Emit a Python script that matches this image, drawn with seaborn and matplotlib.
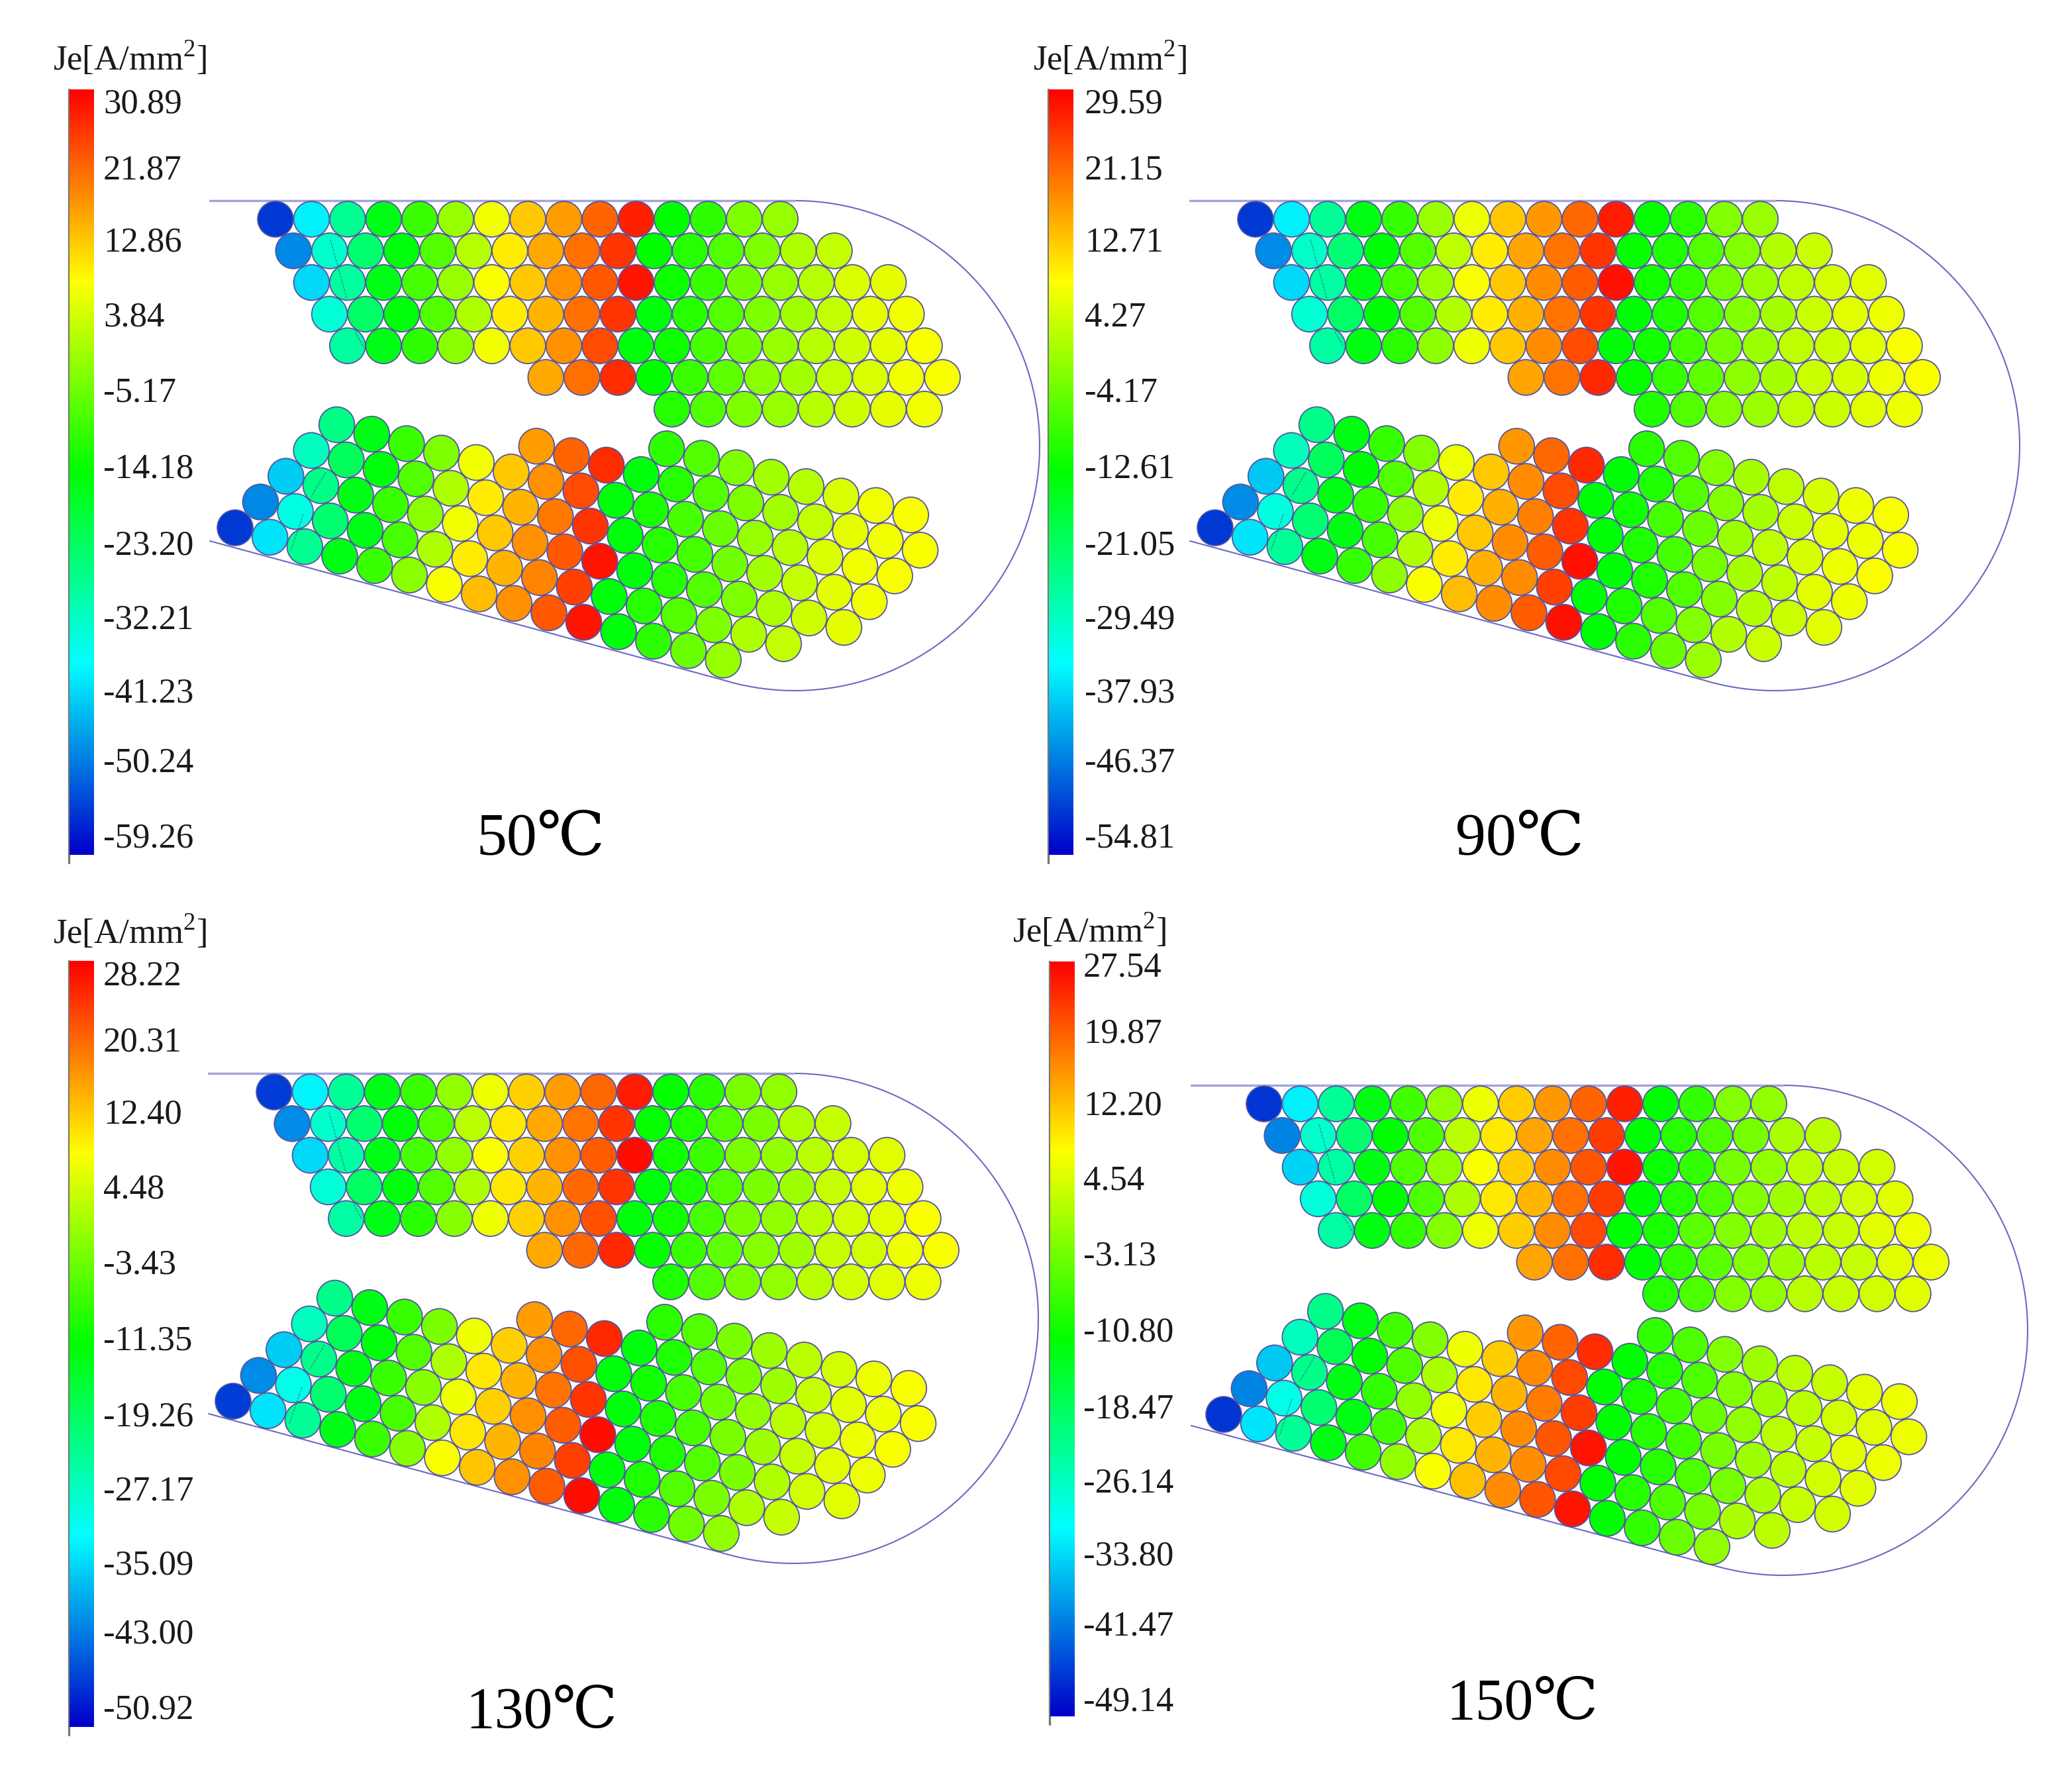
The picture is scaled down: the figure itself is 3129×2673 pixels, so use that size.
import numpy as np
import pandas as pd
import matplotlib.pyplot as plt
import seaborn as sns
from matplotlib.colors import LinearSegmentedColormap

# temperatures and colour bar readings of the four panels
TITLES = ["50℃", "90℃", "130℃", "150℃"]
SCALE_LABELS = [
    ["30.89", "21.87", "12.86", "3.84", "-5.17", "-14.18", "-23.20", "-32.21", "-41.23", "-50.24", "-59.26"],
    ["29.59", "21.15", "12.71", "4.27", "-4.17", "-12.61", "-21.05", "-29.49", "-37.93", "-46.37", "-54.81"],
    ["28.22", "20.31", "12.40", "4.48", "-3.43", "-11.35", "-19.26", "-27.17", "-35.09", "-43.00", "-50.92"],
    ["27.54", "19.87", "12.20", "4.54", "-3.13", "-10.80", "-18.47", "-26.14", "-33.80", "-41.47", "-49.14"],
]

# Je of each conductor, row by row, estimated from the colours
UPPER_50 = [
    [-54, -38, -27, -16, -9, -1, 7, 13, 17, 22, 28, -14, -10, -3, -1],
    [-47, -32, -24, -15, -7, 2, 10, 16, 21, 26, -14, -11, -7, -3, 1, 3],
    [-40, -28, -16, -8, -1, 8, 13, 18, 23, 29, -13, -9, -4, -1, 2, 5, 6],
    [-33, -23, -15, -7, 1, 10, 15, 21, 26, -15, -11, -7, -3, 0, 3, 6, 7],
    [-28, -16, -10, -2, 7, 13, 18, 24, -15, -13, -8, -4, -1, 2, 4, 6, 8],
    [16, 21, 27, -14, -9, -6, -2, 0, 3, 5, 7, 8],
    [-11, -7, -3, -1, 2, 4, 6, 7],
]
LOWER_50 = [
    [-54, -39, -27, -16, -9, -2, 8, 14, 18, 23, 29, -15, -10, -5, -1],
    [-47, -34, -24, -16, -8, 1, 10, 15, 19, 25, -15, -11, -7, -3, 1, 3],
    [-41, -26, -16, -9, -2, 7, 13, 18, 23, 29, -15, -11, -7, -3, 1, 4, 6],
    [-31, -22, -15, -7, 1, 10, 15, 20, 26, -15, -11, -8, -4, 0, 3, 6, 7],
    [-26, -16, -9, -3, 7, 13, 18, 24, -15, -12, -8, -5, -1, 2, 5, 7, 8],
    [17, 22, 27, -15, -11, -7, -3, 0, 3, 6, 7, 8],
    [-10, -7, -3, 0, 2, 5, 7, 8],
]
UPPER_90 = [
    [-50, -35, -25, -14, -8, 0, 7, 13, 17, 21, 27, -12, -9, -2, 0],
    [-43, -29, -22, -13, -6, 3, 10, 16, 20, 25, -12, -10, -6, -2, 2, 4],
    [-37, -26, -14, -7, 0, 8, 13, 18, 22, 28, -11, -8, -3, 0, 3, 5, 6],
    [-30, -21, -13, -6, 2, 10, 15, 20, 25, -13, -10, -6, -2, 1, 4, 6, 7],
    [-26, -14, -9, -1, 7, 13, 18, 23, -13, -11, -7, -3, 0, 3, 4, 6, 8],
    [16, 20, 26, -12, -8, -5, -1, 1, 4, 5, 7, 8],
    [-10, -6, -2, 0, 3, 4, 6, 7],
]
LOWER_90 = [
    [-50, -36, -25, -14, -8, -1, 8, 14, 18, 22, 28, -13, -9, -4, 0],
    [-43, -31, -22, -14, -7, 2, 10, 15, 18, 24, -13, -10, -6, -2, 2, 4],
    [-38, -24, -14, -8, -1, 7, 13, 18, 22, 28, -13, -10, -6, -2, 2, 4, 6],
    [-28, -20, -13, -6, 2, 10, 15, 19, 25, -13, -10, -7, -3, 1, 3, 6, 7],
    [-24, -14, -8, -2, 7, 13, 18, 23, -13, -11, -7, -4, 0, 3, 5, 7, 8],
    [17, 21, 26, -13, -10, -6, -2, 1, 4, 6, 7, 8],
    [-9, -6, -2, 1, 3, 5, 7, 8],
]
UPPER_130 = [
    [-46, -32, -23, -13, -7, 0, 7, 12, 16, 20, 26, -11, -8, -2, 0],
    [-40, -27, -20, -12, -5, 3, 10, 15, 19, 24, -11, -9, -5, -2, 2, 4],
    [-34, -24, -13, -6, 0, 8, 12, 17, 21, 27, -10, -7, -2, 0, 3, 5, 6],
    [-28, -19, -12, -5, 2, 10, 14, 20, 24, -12, -9, -5, -2, 1, 4, 6, 7],
    [-24, -13, -8, -1, 7, 12, 17, 22, -12, -10, -6, -2, 0, 3, 5, 6, 8],
    [15, 20, 25, -11, -7, -4, -1, 1, 4, 5, 7, 8],
    [-9, -5, -2, 0, 3, 5, 6, 7],
]
LOWER_130 = [
    [-46, -33, -23, -13, -7, -1, 8, 13, 17, 21, 27, -12, -8, -3, 0],
    [-40, -29, -20, -13, -6, 2, 10, 14, 18, 23, -12, -9, -5, -2, 2, 4],
    [-35, -22, -13, -7, -1, 7, 12, 17, 21, 27, -12, -9, -5, -2, 2, 5, 6],
    [-26, -18, -12, -5, 2, 10, 14, 19, 24, -12, -9, -6, -2, 1, 4, 6, 7],
    [-22, -13, -7, -2, 7, 12, 17, 22, -12, -10, -6, -3, 0, 3, 5, 7, 8],
    [16, 20, 25, -12, -9, -5, -2, 1, 4, 6, 7, 8],
    [-8, -5, -2, 1, 3, 5, 7, 8],
]
UPPER_150 = [
    [-45, -31, -22, -12, -6, 0, 7, 12, 16, 20, 25, -11, -7, -1, 0],
    [-39, -26, -19, -11, -5, 3, 10, 15, 19, 23, -11, -8, -5, -2, 2, 3],
    [-33, -23, -12, -5, 0, 8, 12, 17, 21, 26, -10, -7, -2, 0, 3, 4, 5],
    [-27, -18, -11, -5, 2, 10, 14, 19, 23, -11, -8, -5, -1, 1, 3, 5, 6],
    [-23, -12, -7, -1, 7, 12, 17, 22, -11, -9, -4, -1, 1, 3, 4, 6, 7],
    [15, 19, 24, -11, -7, -4, -1, 1, 3, 4, 6, 7],
    [-8, -5, -1, 0, 3, 4, 5, 6],
]
LOWER_150 = [
    [-45, -32, -22, -12, -6, 0, 8, 13, 17, 21, 26, -11, -7, -3, 0],
    [-39, -28, -19, -12, -6, 2, 10, 14, 17, 22, -11, -8, -5, -2, 2, 3],
    [-34, -21, -12, -7, 0, 7, 12, 17, 21, 26, -11, -8, -5, -2, 2, 4, 5],
    [-25, -17, -11, -5, 2, 10, 14, 18, 23, -11, -8, -6, -2, 1, 3, 5, 6],
    [-21, -12, -6, -1, 7, 12, 17, 22, -11, -9, -6, -3, 0, 3, 4, 6, 7],
    [16, 20, 24, -11, -8, -5, -1, 1, 3, 5, 6, 7],
    [-7, -5, -1, 1, 3, 4, 6, 7],
]
UPPER = [UPPER_50, UPPER_90, UPPER_130, UPPER_150]
LOWER = [LOWER_50, LOWER_90, LOWER_130, LOWER_150]

# first column used in each row of the winding
ROW_START = [0, 0, 0, 0, 0, 5, 8]

# layout, all in pixels of the final image
W, H = 3129, 2673
UPPER_ORIGIN = [(416, 331), (1896, 331), (414, 1649), (1909, 1667)]
LOWER_ORIGIN = [(355, 797), (1835, 797), (352, 2116), (1848, 2136)]
OUTLINE_SHIFT = [(0, 0), (1480, 0), (-2, 1318), (1492, 1336)]
OUTLINE_LEFT = [317, 1797, 315, 1799]
BAR_X = [(105, 142), (1584, 1621), (105, 142), (1586, 1623)]
BAR_Y = [(135, 1291), (135, 1291), (1451, 2608), (1452, 2592)]
LABEL_X = [156, 1638, 156, 1636]
LABEL_Y = [157, 257, 366, 479, 593, 708, 824, 936, 1047, 1152, 1266]
LABEL_SHIFT = [0, 0, 1317, 1304]
HEADER_XY = [(196, 88), (1676, 88), (196, 1407), (1645, 1405)]
TITLE_XY = [(817, 1269), (2295, 1269), (818, 2587), (2299, 2574)]
TITLE_SIZE = [66, 66, 63, 63]
MARKS = [((499, 362), (524, 452)), ((536, 501), (549, 524)), ((492, 713), (470, 750)), ((458, 777), (439, 832))]

LINE_COLOR = "#6a6ac2"
EDGE_COLOR = "#55559e"
jet = LinearSegmentedColormap.from_list("je", ["#0000c8", "#00ffff", "#00ff00", "#ffff00", "#ff0000"])


# turn rows of values into a table of circle centres
def lattice(rows, origin, col_step, row_step):
    out = []
    for r, row in enumerate(rows):
        for k, je in enumerate(row):
            col = ROW_START[r] + k
            out.append({
                "x": origin[0] + col * col_step[0] + r * row_step[0],
                "y": origin[1] + col * col_step[1] + r * row_step[1],
                "Je": je,
            })
    return pd.DataFrame(out)


sns.set_theme(style="white")
plt.rcParams["font.family"] = ["Liberation Serif", "DejaVu Serif", "Noto Sans CJK SC", "DejaVu Sans"]
plt.rcParams["mathtext.fontset"] = "custom"
plt.rcParams["mathtext.rm"] = "Liberation Serif"

fig = plt.figure(figsize=(W / 100, H / 100), dpi=100)
ax = fig.add_axes([0, 0, 1, 1])

for p in range(4):
    vmax = float(SCALE_LABELS[p][0])
    vmin = float(SCALE_LABELS[p][-1])
    dx, dy = OUTLINE_SHIFT[p]

    # slot outline
    t = np.radians(np.linspace(-90, 107, 120))
    arc_x = 1200 + dx + 370 * np.cos(t)
    arc_y = 673 + dy + 370 * np.sin(t)
    ax.plot(np.r_[OUTLINE_LEFT[p], arc_x, OUTLINE_LEFT[p]], np.r_[303 + dy, arc_y, 817 + dy],
            color=LINE_COLOR, lw=1.5, zorder=1)
    ax.plot([OUTLINE_LEFT[p], 1200 + dx], [303 + dy, 303 + dy], color="#a3a3dc", lw=2.4, zorder=1)

    # conductors
    top = lattice(UPPER[p], UPPER_ORIGIN[p], (54.45, 0), (27.2, 47.8))
    bottom = lattice(LOWER[p], LOWER_ORIGIN[p], (52.66, 14.27), (38.4, -38.9))
    for df in (top, bottom):
        sns.scatterplot(data=df, x="x", y="y", hue="Je", hue_norm=(vmin, vmax), palette=jet,
                        s=1500, edgecolor=EDGE_COLOR, linewidth=1.3, legend=False, ax=ax, zorder=2)

    # thin skew marks inside the first turns
    sx, sy = UPPER_ORIGIN[p][0] - 416, UPPER_ORIGIN[p][1] - 331
    for a, b in MARKS:
        ax.plot([a[0] + sx, b[0] + sx], [a[1] + sy, b[1] + sy], color="#2a6a8a", lw=0.7, ls="--", zorder=3)

    # colour bar
    x0, x1 = BAR_X[p]
    y0, y1 = BAR_Y[p]
    cax = fig.add_axes([x0 / W, 1 - y1 / H, (x1 - x0) / W, (y1 - y0) / H])
    sns.heatmap(np.linspace(vmax, vmin, 512)[:, None], ax=cax, cmap=jet, vmin=vmin, vmax=vmax,
                cbar=False, xticklabels=False, yticklabels=False)
    ax.plot([x0 - 1, x0 - 1], [y0, y1 + 12], color="#777777", lw=2.4, zorder=1)

    for label, y in zip(SCALE_LABELS[p], LABEL_Y):
        ax.text(LABEL_X[p], y + LABEL_SHIFT[p], label, fontsize=38, color="#1a1a1a", ha="left", va="center")
    ax.text(*HEADER_XY[p], "Je[A/mm$^{2}$]", fontsize=38, color="#1a1a1a", ha="center", va="center")
    ax.text(*TITLE_XY[p], TITLES[p], fontsize=TITLE_SIZE[p], color="black", ha="center", va="center")

ax.set_xlim(0, W)
ax.set_ylim(H, 0)
ax.set_axis_off()

fig.savefig("out.png", dpi=100, facecolor="white")
